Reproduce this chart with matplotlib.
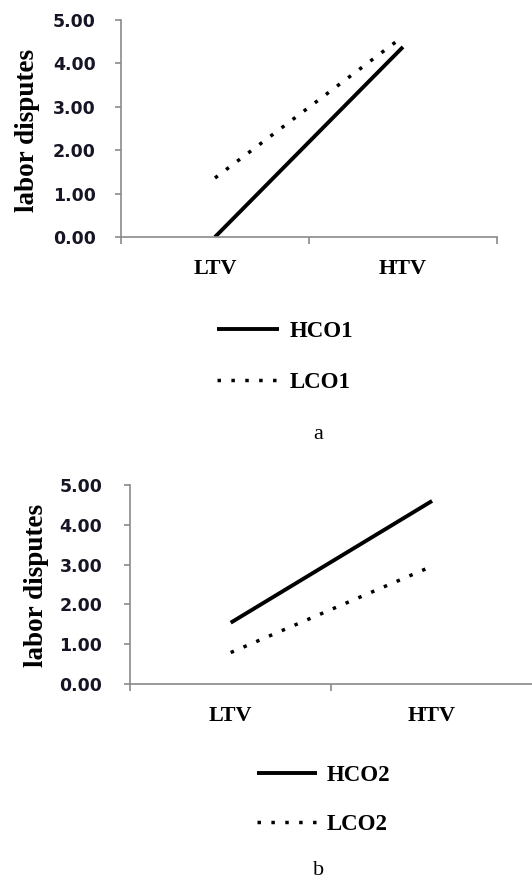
import matplotlib
matplotlib.use('Agg')
import matplotlib.pyplot as plt

categories = ['LTV', 'HTV']
yticks = [0, 1, 2, 3, 4, 5]
ytick_labels = ['0.00', '1.00', '2.00', '3.00', '4.00', '5.00']

hco1 = [0.0, 4.38]
lco1 = [1.36, 4.62]
hco2 = [1.54, 4.60]
lco2 = [0.79, 2.96]

axis_color = '#8a8a8a'
serif = 'Liberation Serif'


def draw_panel(ax, high, low, high_name, low_name, ypad):
    x = range(len(categories))
    ax.plot(x, high, color='black', lw=2.8, solid_capstyle='butt', label=high_name)
    ax.plot(x, low, color='black', lw=2.5, linestyle=(0, (1, 3.0)), label=low_name)
    ax.set_xlim(-0.5, 1.5)
    ax.set_ylim(0, 5)
    for s in ['top', 'right']:
        ax.spines[s].set_visible(False)
    for s in ['left', 'bottom']:
        ax.spines[s].set_color(axis_color)
        ax.spines[s].set_linewidth(1.2)
    # category borders as major ticks, names as minor ticks
    ax.set_xticks([-0.5, 0.5, 1.5])
    ax.set_xticklabels([])
    ax.set_xticks([0, 1], minor=True)
    ax.set_xticklabels(categories, minor=True, fontfamily=serif,
                       fontweight='bold', fontsize=16)
    ax.tick_params(axis='x', which='major', direction='out', length=5,
                   color=axis_color, width=1.2)
    ax.tick_params(axis='x', which='minor', length=0, pad=15.5)
    ax.set_yticks(yticks)
    ax.set_yticklabels(ytick_labels, fontfamily='DejaVu Sans',
                       fontweight='bold', fontsize=12.5, color='#151525')
    ax.tick_params(axis='y', direction='out', length=4, color=axis_color,
                   width=1.2, pad=ypad)


fig = plt.figure(figsize=(5.32, 8.82), dpi=100)

ax1 = fig.add_axes([0.2274, 0.7313, 0.7068, 0.246])
draw_panel(ax1, hco1, lco1, 'HCO1', 'LCO1', 14)
ax1.legend(loc='center left', bbox_to_anchor=(0.408, 0.5952),
           bbox_transform=fig.transFigure, frameon=False, borderpad=0,
           borderaxespad=0, handlelength=2.7, handletextpad=0.45,
           labelspacing=1.3, prop={'family': serif, 'weight': 'bold', 'size': 16.5})
fig.text(0.0508, 0.8526, 'labor disputes', rotation=90, ha='center', va='center',
         fontfamily=serif, fontweight='bold', fontsize=19.5)
fig.text(0.598, 0.507, 'a', ha='center', va='center', fontfamily=serif, fontsize=16)

ax2 = fig.add_axes([0.2444, 0.2245, 0.757, 0.2256])
draw_panel(ax2, hco2, lco2, 'HCO2', 'LCO2', 16)
ax2.legend(loc='center left', bbox_to_anchor=(0.483, 0.093),
           bbox_transform=fig.transFigure, frameon=False, borderpad=0,
           borderaxespad=0, handlelength=2.6, handletextpad=0.45,
           labelspacing=1.2, prop={'family': serif, 'weight': 'bold', 'size': 16.5})
fig.text(0.0695, 0.3367, 'labor disputes', rotation=90, ha='center', va='center',
         fontfamily=serif, fontweight='bold', fontsize=19.5)
fig.text(0.598, 0.0136, 'b', ha='center', va='center', fontfamily=serif, fontsize=16)

fig.savefig('out.png', dpi=100, facecolor='white')
